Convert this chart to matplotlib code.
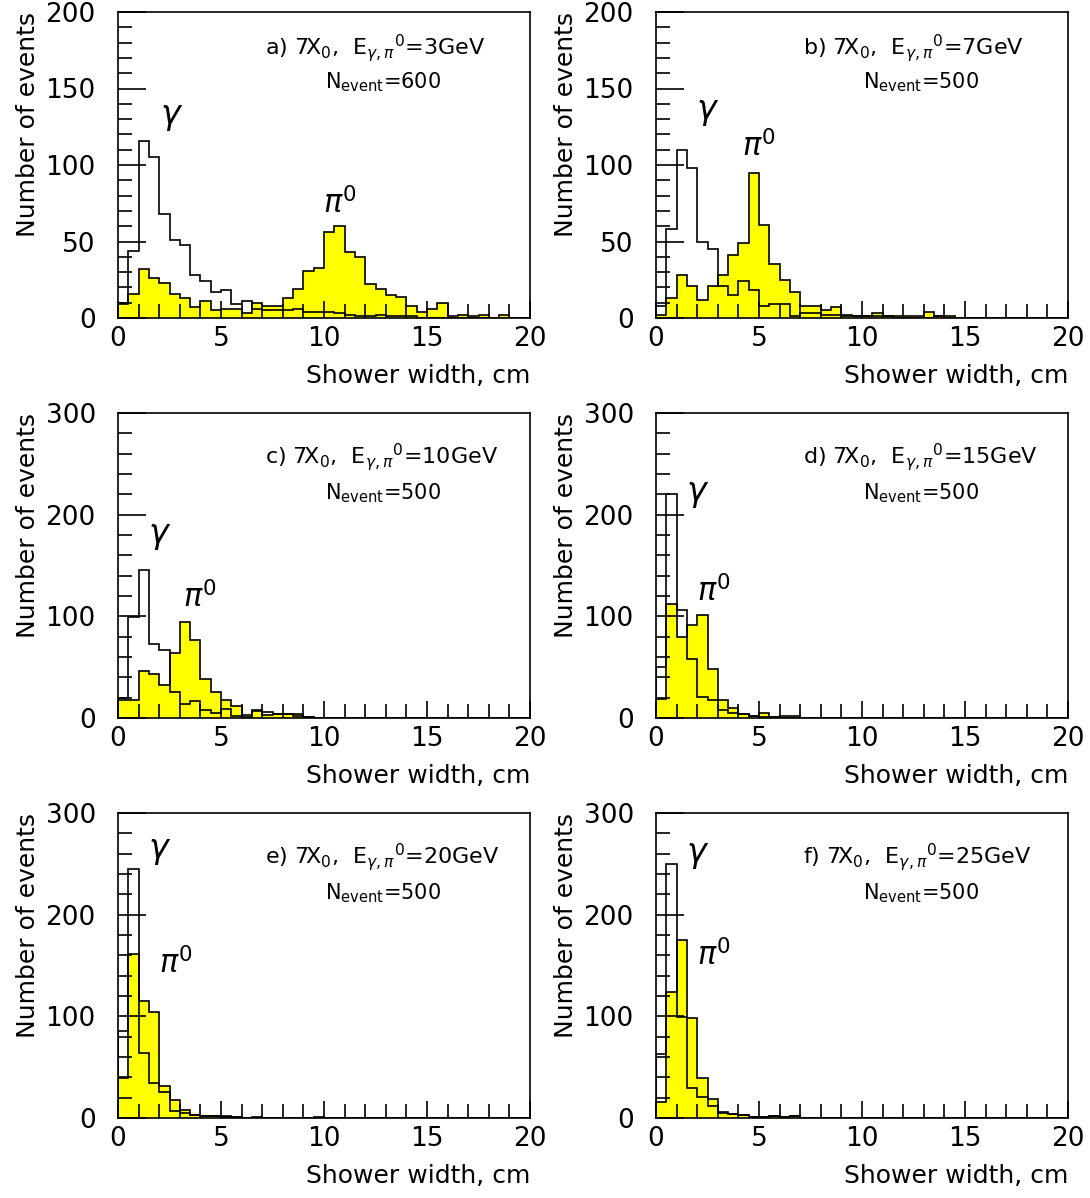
import matplotlib
matplotlib.use("Agg")
import matplotlib.pyplot as plt
from matplotlib.ticker import MultipleLocator
import numpy as np

# bin edges: 40 bins of 0.5 cm from 0 to 20 cm
edges = np.arange(0, 20.5, 0.5)

# shower width histograms (events per 0.5 cm bin)
a_gamma = [10, 44, 116, 105, 68, 51, 48, 28, 24, 17, 18, 9, 11, 6, 5, 5, 5, 6, 4, 4,
           4, 3, 2, 1, 1, 2, 1, 1, 1, 0, 0, 0, 0, 0, 0, 0, 0, 0, 0, 0]
a_pi0 = [9, 16, 32, 26, 23, 16, 13, 7, 11, 5, 6, 6, 3, 10, 8, 8, 13, 19, 31, 33,
         56, 60, 43, 40, 22, 19, 15, 14, 8, 4, 6, 10, 1, 2, 1, 2, 0, 2, 0, 0]
b_gamma = [8, 58, 110, 98, 50, 45, 21, 15, 24, 18, 8, 9, 9, 1, 3, 3, 2, 2, 1, 1,
           1, 1, 1, 0, 0, 0, 0, 1, 0, 0, 0, 0, 0, 0, 0, 0, 0, 0, 0, 0]
b_pi0 = [2, 13, 28, 21, 12, 21, 28, 41, 49, 95, 61, 35, 25, 17, 8, 8, 5, 7, 2, 1,
         1, 3, 1, 1, 1, 1, 4, 1, 1, 0, 0, 0, 0, 0, 0, 0, 0, 0, 0, 0]
c_gamma = [20, 99, 146, 73, 67, 26, 14, 17, 8, 5, 9, 2, 3, 8, 6, 4, 4, 2, 1, 0,
           0, 0, 0, 0, 0, 0, 0, 0, 0, 0, 0, 0, 0, 0, 0, 0, 0, 0, 0, 0]
c_pi0 = [18, 18, 46, 43, 32, 64, 94, 77, 38, 26, 18, 12, 1, 7, 3, 4, 4, 4, 1, 0,
         0, 0, 0, 0, 0, 0, 0, 0, 0, 0, 0, 0, 0, 0, 0, 0, 0, 0, 0, 0]
d_gamma = [50, 220, 106, 58, 21, 18, 8, 5, 4, 2, 1, 1, 0, 0, 0, 0, 0, 0, 0, 0,
           0, 0, 0, 0, 0, 0, 0, 0, 0, 0, 0, 0, 0, 0, 0, 0, 0, 0, 0, 0]
d_pi0 = [19, 112, 80, 91, 101, 48, 18, 10, 4, 2, 5, 1, 2, 2, 0, 0, 0, 0, 0, 0,
         0, 0, 0, 0, 0, 0, 0, 0, 0, 0, 0, 0, 0, 0, 0, 0, 0, 0, 0, 0]
e_gamma = [86, 245, 64, 34, 26, 7, 5, 3, 2, 2, 1, 1, 0, 0, 0, 0, 0, 0, 0, 0,
           0, 0, 0, 0, 0, 0, 0, 0, 0, 0, 0, 0, 0, 0, 0, 0, 0, 0, 0, 0]
e_pi0 = [39, 161, 115, 104, 31, 18, 8, 3, 2, 2, 2, 1, 0, 1, 0, 0, 0, 0, 0, 1,
         0, 0, 0, 0, 0, 0, 0, 0, 0, 0, 0, 0, 0, 0, 0, 0, 0, 0, 0, 0]
f_gamma = [63, 250, 99, 30, 21, 12, 5, 4, 3, 1, 1, 2, 1, 2, 0, 0, 0, 0, 0, 0,
           0, 0, 0, 0, 0, 0, 0, 0, 0, 0, 0, 0, 0, 0, 0, 0, 0, 0, 0, 0]
f_pi0 = [16, 124, 175, 98, 39, 19, 6, 4, 3, 1, 1, 2, 1, 2, 0, 0, 0, 0, 0, 0,
         0, 0, 0, 0, 0, 0, 0, 0, 0, 0, 0, 0, 0, 0, 0, 0, 0, 0, 0, 0]

letters = ["a", "b", "c", "d", "e", "f"]
energies = [3, 7, 10, 15, 20, 25]
n_events = [600, 500, 500, 500, 500, 500]
gammas = [a_gamma, b_gamma, c_gamma, d_gamma, e_gamma, f_gamma]
pi0s = [a_pi0, b_pi0, c_pi0, d_pi0, e_pi0, f_pi0]
y_max = [200, 200, 300, 300, 300, 300]

# label positions (data coords) for gamma and pi0 markers
gamma_pos = [(2.6, 132), (2.5, 135), (2.0, 180), (2.0, 221), (2.0, 263), (2.0, 259)]
pi0_pos = [(10.8, 75), (5.0, 112), (4.0, 119), (2.8, 125), (2.8, 152), (2.8, 160)]

plt.rcParams["font.family"] = "DejaVu Sans"
plt.rcParams["mathtext.fontset"] = "dejavusans"

fig = plt.figure(figsize=(10.9, 11.98), dpi=100)

lefts = [118, 656]
tops = [12, 413, 813]
W, H = 1090, 1198

for i in range(6):
    row, col = divmod(i, 2)
    x0 = lefts[col] / W
    h_px = 306 if row == 0 else 305
    y0 = 1 - (tops[row] + h_px) / H
    ax = fig.add_axes([x0, y0, 412 / W, h_px / H])

    ax.stairs(pi0s[i], edges, fill=True, facecolor="#ffff00",
              edgecolor="black", linewidth=1.2)
    ax.stairs(gammas[i], edges, color="black", linewidth=1.2)

    ax.set_xlim(0, 20)
    ax.set_ylim(0, y_max[i])
    ax.xaxis.set_major_locator(MultipleLocator(5))
    ax.xaxis.set_minor_locator(MultipleLocator(1))
    if y_max[i] == 200:
        ax.yaxis.set_major_locator(MultipleLocator(50))
        ax.yaxis.set_minor_locator(MultipleLocator(10))
    else:
        ax.yaxis.set_major_locator(MultipleLocator(100))
        ax.yaxis.set_minor_locator(MultipleLocator(20))

    ax.tick_params(which="both", direction="in", top=False, right=False,
                   width=1.2, labelsize=19)
    ax.tick_params(axis="y", which="major", length=20, pad=16)
    ax.tick_params(axis="y", which="minor", length=10)
    ax.tick_params(axis="x", which="major", length=12, pad=6)
    ax.tick_params(axis="x", which="minor", length=10)
    for s in ax.spines.values():
        s.set_linewidth(1.2)

    ax.set_xlabel("Shower width, cm", fontsize=18, loc="right")
    ax.xaxis.set_label_coords(1.0, -0.15)
    ax.set_ylabel("Number of events", fontsize=18, loc="top")
    ax.yaxis.set_label_coords(-0.19, 1.0)

    ty = 0.882 if row == 0 else 0.856
    ny = 0.771 if row == 0 else 0.738
    ax.text(0.357, ty,
            letters[i] + r") 7X$_0$,  $\mathrm{E}_{\gamma,\pi}{}^0$=" + str(energies[i]) + "GeV",
            transform=ax.transAxes, fontsize=16, va="center", ha="left")
    ax.text(0.502, ny, r"N$_{\rm event}$=" + str(n_events[i]),
            transform=ax.transAxes, fontsize=15, va="center", ha="left")

    ax.text(gamma_pos[i][0], gamma_pos[i][1], r"$\gamma$", fontsize=24,
            ha="center", va="center")
    ax.text(pi0_pos[i][0], pi0_pos[i][1], r"$\pi^0$", fontsize=22,
            ha="center", va="center")

fig.savefig("out.png", dpi=100)
